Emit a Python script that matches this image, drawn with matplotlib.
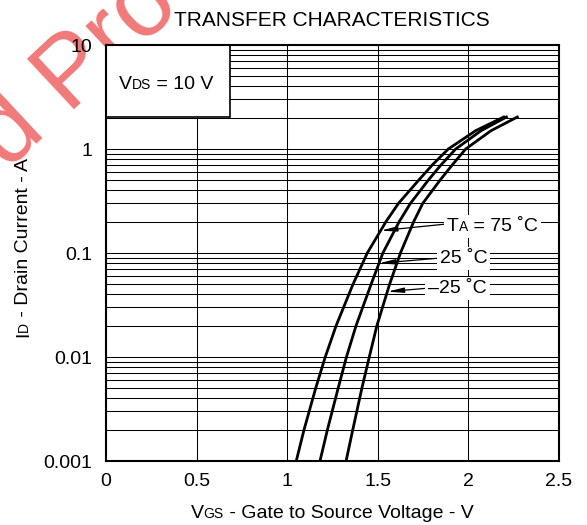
#转移特性曲线
import numpy as np
import matplotlib
matplotlib.use('Agg')
from matplotlib import pyplot as plt
from matplotlib.patches import Rectangle
from matplotlib.ticker import FixedLocator, FixedFormatter, LogLocator, NullFormatter
from matplotlib.transforms import IdentityTransform

plt.rcParams['font.family'] = ['Liberation Sans', 'DejaVu Sans']

# 坐标轴刻度
x_ticks = [0, 0.5, 1, 1.5, 2, 2.5]
x_tick_labels = ['0', '0.5', '1', '1.5', '2', '2.5']
y_ticks = [0.001, 0.01, 0.1, 1, 10]
y_tick_labels = ['0.001', '0.01', '0.1', '1', '10']

# 曲线数据 (VGS, ID)
vgs_75 = [1.050, 1.093, 1.157, 1.210, 1.270, 1.363, 1.442, 1.545, 1.614, 1.725, 1.800, 1.889, 2.040, 2.195]
id_75 = [0.001, 0.002, 0.005, 0.01, 0.02, 0.05, 0.1, 0.2, 0.3, 0.5, 0.7, 1.0, 1.5, 2.03]
vgs_25 = [1.181, 1.222, 1.281, 1.327, 1.380, 1.463, 1.528, 1.618, 1.680, 1.778, 1.848, 1.930, 2.070, 2.210]
id_25 = [0.001, 0.002, 0.005, 0.01, 0.02, 0.05, 0.1, 0.2, 0.3, 0.5, 0.7, 1.0, 1.5, 2.03]
vgs_m25 = [1.325, 1.362, 1.412, 1.453, 1.495, 1.565, 1.625, 1.698, 1.748, 1.843, 1.910, 1.985, 2.125, 2.270]
id_m25 = [0.001, 0.002, 0.005, 0.01, 0.02, 0.05, 0.1, 0.2, 0.3, 0.5, 0.7, 1.0, 1.5, 2.03]

# 箭头: 曲线上的点 和 标签端点
arrow_tips = [(1.516, 0.164), (1.505, 0.0796), (1.553, 0.0425)]
arrow_tails = [(1.880, 0.190), (1.825, 0.0889), (1.770, 0.0458)]
label_pos = [(1.882, 0.163), (1.843, 0.0803), (1.778, 0.0413)]
temp_labels = [[('T', 14), ('A', 10), (' = 75 \u02daC', 14)],
               [('25 \u02daC', 14)],
               [('\u201325 \u02daC', 14)]]

W, H = 587, 525
fig = plt.figure(figsize=(W / 100, H / 100), dpi=100)
ax = fig.add_axes([106 / W, 1 - 461 / H, (559 - 106) / W, (461 - 45) / H])


def adv(s, sz, r):
    # 字符串的前进宽度(含空格)
    t1 = fig.text(0, 0, '|' + s + '|', fontsize=sz)
    t2 = fig.text(0, 0, '||', fontsize=sz)
    w = t1.get_window_extent(r).width - t2.get_window_extent(r).width
    t1.remove()
    t2.remove()
    return w


def parts_text(px, py, parts, rot=0, center=False, box=False, zorder=6):
    # px, py: 显示坐标(像素, 左下原点), 基线起点或中心
    r = fig.canvas.get_renderer()
    ws = [adv(s, sz, r) for s, sz in parts]
    d = np.array([1.0, 0.0]) if rot == 0 else np.array([0.0, 1.0])
    p = np.array([px, py], dtype=float)
    if center:
        p = p - d * sum(ws) / 2
    for (s, sz), w in zip(parts, ws):
        kw = dict(fontsize=sz, rotation=rot, rotation_mode='anchor',
                  ha='left', va='baseline', transform=IdentityTransform())
        if box:
            # 白底先画, 避免盖住前一个字
            fig.text(p[0], p[1], s, color='none', zorder=zorder - 0.5,
                     bbox=dict(boxstyle='square,pad=0.15', fc='white', ec='none'), **kw)
        fig.text(p[0], p[1], s, zorder=zorder, **kw)
        p = p + d * w


ax.plot(vgs_75, id_75, color='k', lw=2, zorder=4)
ax.plot(vgs_25, id_25, color='k', lw=2, zorder=4)
ax.plot(vgs_m25, id_m25, color='k', lw=2, zorder=4)

ax.set_yscale('log')
ax.set_xlim(0, 2.5)
ax.set_ylim(0.001, 10)
ax.xaxis.set_major_locator(FixedLocator(x_ticks))
ax.xaxis.set_major_formatter(FixedFormatter(x_tick_labels))
ax.yaxis.set_major_locator(FixedLocator(y_ticks))
ax.yaxis.set_major_formatter(FixedFormatter(y_tick_labels))
ax.yaxis.set_minor_locator(LogLocator(base=10, subs=range(2, 10)))
ax.yaxis.set_minor_formatter(NullFormatter())
ax.tick_params(which='both', length=0, labelsize=14)
ax.tick_params(axis='x', pad=8.5)
ax.tick_params(axis='y', pad=10)
ax.grid(True, which='both', axis='y', color='k', lw=0.75)
ax.grid(True, which='major', axis='x', color='k', lw=0.75)
for sp in ax.spines.values():
    sp.set_linewidth(1.5)
    sp.set_zorder(5)

# VDS 框
ax.add_patch(Rectangle((0, 1 - 72 / 416), 124 / 453, 72 / 416, transform=ax.transAxes,
                       fc='white', ec='k', lw=1.2, zorder=3))

# 箭头
for tip, tail in zip(arrow_tips, arrow_tails):
    ax.annotate('', xy=tip, xytext=tail,
                arrowprops=dict(arrowstyle='-|>,head_length=0.95,head_width=0.15',
                                mutation_scale=10, lw=0.9, color='k',
                                shrinkA=0, shrinkB=0), zorder=5)

fig.canvas.draw()
for pos, parts in zip(label_pos, temp_labels):
    dx, dy = ax.transData.transform(pos)
    parts_text(dx, dy, parts, box=True)

# 文字
fig.text(332 / W, 1 - 26.5 / H, 'TRANSFER CHARACTERISTICS', fontsize=15, ha='center', va='baseline')
parts_text(119, H - 89.3, [('V', 14), ('DS', 10), (' = 10 V', 14)])
parts_text(332, H - 518, [('V', 14), ('GS', 10), (' - Gate to Source Voltage - V', 14)], center=True)
parts_text(28.3, H - 247.5, [('I', 14), ('D', 10), (' - Drain Current - A', 14)], rot=90, center=True)

# 水印
fig.text(54, H - 128, 'ued Pro', fontsize=72, rotation=43, rotation_mode='anchor',
         ha='center', va='baseline', color='#f06b6b', alpha=0.9,
         transform=IdentityTransform(), zorder=-1)

plt.savefig('out.png', dpi=100)
